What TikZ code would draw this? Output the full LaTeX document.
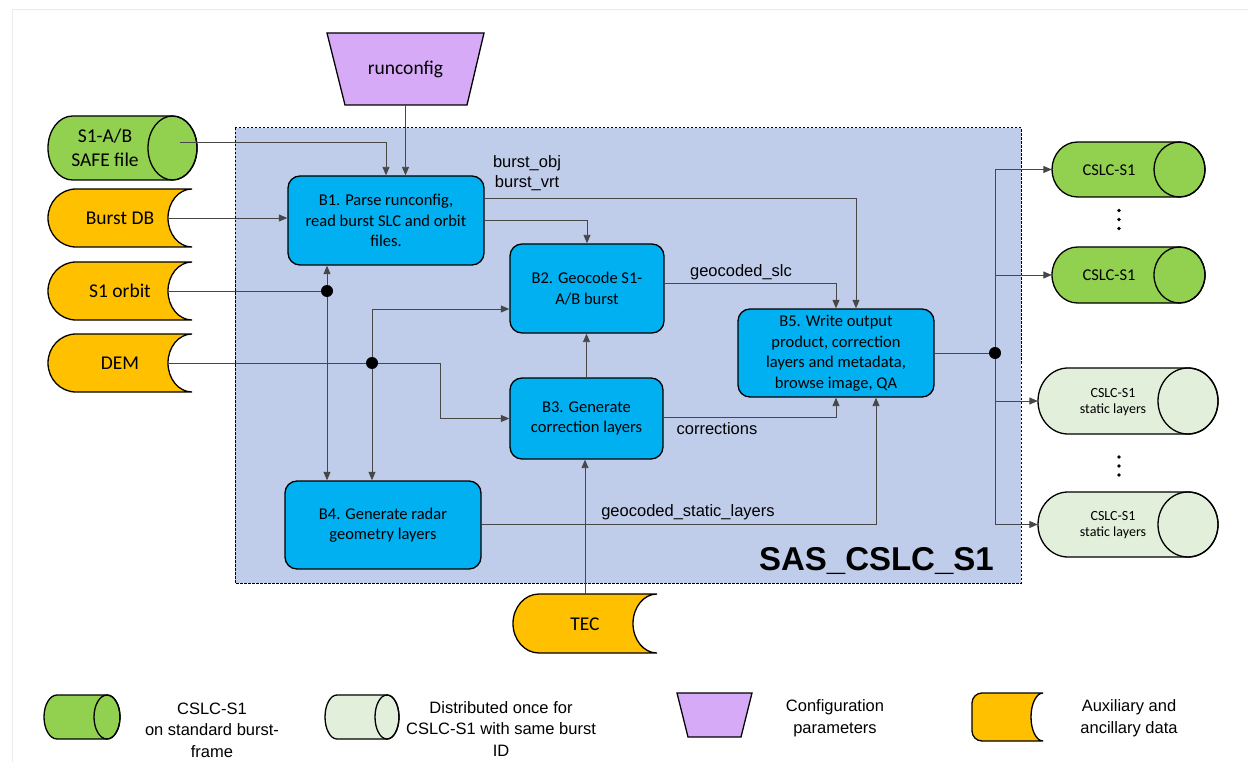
\documentclass[tikz,border=0pt]{standalone}
\usepackage{fontspec}
\setmainfont{Carlito}
\newfontfamily\arialf{Liberation Sans}
\usetikzlibrary{arrows.meta,calc}
\definecolor{cgreen}{HTML}{92D050}
\definecolor{clgreen}{HTML}{E2EFDA}
\definecolor{corange}{HTML}{FFC000}
\definecolor{cblue}{HTML}{00B0F0}
\definecolor{cpanel}{HTML}{BFCDEA}
\definecolor{cpurple}{HTML}{D6AAF6}
\definecolor{cline}{HTML}{474747}
\definecolor{cframe}{HTML}{EBEBEB}

\newcommand{\hcyl}[6]{%
  \pgfmathsetmacro{\cyM}{(#3+#4)/2}\pgfmathsetmacro{\cyR}{(#4-#3)/2}%
  \pgfmathsetmacro{\cyA}{#1+#5}\pgfmathsetmacro{\cyB}{#2-#5}%
  \draw[shp,fill=#6] (\cyA,#3) -- (\cyB,#3) arc[start angle=-90,end angle=90,x radius=#5,y radius=\cyR] -- (\cyA,#4) arc[start angle=90,end angle=270,x radius=#5,y radius=\cyR] -- cycle;
  \draw[shp] (\cyB,\cyM) ellipse[x radius=#5,y radius=\cyR];
}
\newcommand{\auxshape}[6]{%
  \pgfmathsetmacro{\auR}{(#4-#3)/2}\pgfmathsetmacro{\auA}{#1+#5}%
  \draw[shp,fill=corange] (\auA,#3) -- (#2,#3) arc[start angle=270,end angle=90,x radius=#6,y radius=\auR] -- (\auA,#4) arc[start angle=90,end angle=270,x radius=#5,y radius=\auR] -- cycle;
}

\begin{document}
\begin{tikzpicture}[x=1pt,y=-1pt,
  shp/.style={draw=black,line width=1.3pt},
  proc/.style={shp, fill=cblue, rounded corners=12pt, align=center, font=\fontsize{16.5}{20.5}\selectfont, inner sep=0pt},
  inp/.style={align=center, inner sep=0pt, font=\fontsize{19.5}{23.5}\selectfont},
  outt/.style={align=center, inner sep=0pt, font=\fontsize{16.5}{20}\selectfont},
  stt/.style={align=center, inner sep=0pt, font=\fontsize{14}{16}\selectfont},
  lbl/.style={font=\arialf\fontsize{16.5}{20}\selectfont, align=center, inner sep=0pt},
  lgt/.style={font=\arialf\fontsize{16.5}{21.5}\selectfont, align=center, inner sep=0pt},
  hold/.style={inner sep=0pt, draw=none},
  conn/.style={draw=cline, line width=0.9pt},
  arr/.style={conn, -{Triangle[length=8.5pt,width=7pt]}},
  jdot/.style={circle, fill=black, minimum size=12pt, inner sep=0pt}
]
\fill[white] (0,0) rectangle (1248,762);
\useasboundingbox (0,0) rectangle (1248,762);
\draw[cframe, line width=1pt] (12,762) -- (12,10) -- (1248,10);

% panel
\draw[black, line width=1pt, dash pattern=on 2.5pt off 1.5pt, fill=cpanel] (235,128) rectangle (1021,583);
\node[font=\arialf\bfseries\fontsize{33}{33}\selectfont, anchor=base east, inner sep=0pt] (title) at (994,570) {SAS\_CSLC\_S1};

% runconfig
\draw[shp, fill=cpurple] (327,33) -- (484,33) -- (467,105) -- (345,105) -- cycle;
\node[inp, minimum height=72pt] (rc) at (405.5,69) {runconfig};

% inputs
\hcyl{48}{197}{116}{180}{24.5}{cgreen}
\node[inp] (safe) at (105,148) {S1-A/B\\SAFE file};
\coordinate (safeout) at (180,142);
\auxshape{48}{192}{189}{247}{28}{24}
\node[inp] (burstdb) at (120,218) {Burst DB};
\coordinate (burstdbout) at (168,218);
\auxshape{48}{192}{262}{320}{28}{24}
\node[inp] (orbit) at (120,291) {S1 orbit};
\coordinate (orbitout) at (168,291);
\auxshape{48}{192}{334}{392}{28}{24}
\node[inp] (dem) at (120,363) {DEM};
\coordinate (demout) at (168,363);
\auxshape{513}{657}{594}{653}{26}{24}
\node[inp] (tec) at (585,624) {TEC};
\coordinate (tecout) at (585,594);

% outputs
\hcyl{1052}{1205}{142}{197}{25.5}{cgreen}
\node[hold, minimum width=153pt, minimum height=55pt] (out1) at (1128.5,169.5) {};
\node[outt] (out1t) at (1109,170) {CSLC-S1};
\hcyl{1052}{1205}{247}{303}{25.5}{cgreen}
\node[hold, minimum width=153pt, minimum height=56pt] (out2) at (1128.5,275) {};
\node[outt] (out2t) at (1109,275) {CSLC-S1};
\hcyl{1038}{1218}{368}{434}{30}{clgreen}
\node[hold, minimum width=180pt, minimum height=66pt] (st1) at (1128,401) {};
\node[stt] (st1t) at (1113,402) {CSLC-S1\\static layers};
\hcyl{1038}{1218}{492}{557}{30}{clgreen}
\node[hold, minimum width=180pt, minimum height=65pt] (st2) at (1128,524.5) {};
\node[stt] (st2t) at (1113,525) {CSLC-S1\\static layers};
\fill (1119,210.5) circle (1.8) (1119,219.5) circle (1.8) (1119,228.5) circle (1.8);
\fill (1119,457) circle (1.8) (1119,466) circle (1.8) (1119,475) circle (1.8);

% process boxes
\node[proc, minimum width=196pt, minimum height=89pt] (b1) at (386,220.5) {B1. Parse runconfig,\\read burst SLC and orbit\\files.};
\node[proc, minimum width=154pt, minimum height=89pt] (b2) at (587,288.5) {B2. Geocode S1-\\A/B burst};
\node[proc, minimum width=153pt, minimum height=81pt] (b3) at (586.5,418.5) {B3. Generate\\correction layers};
\node[proc, minimum width=196pt, minimum height=88pt] (b4) at (383,525) {B4. Generate radar\\geometry layers};
\node[proc, minimum width=196pt, minimum height=88pt] (b5) at (836,353) {B5. Write output\\product, correction\\layers and metadata,\\browse image, QA};

% junctions
\coordinate (j1) at (327,291);
\coordinate (j2) at (372,363);
\coordinate (j3) at (995,353);

% connectors
\draw[arr] (rc.south) -- (rc.south |- b1.north);
\draw[arr] (safeout) -| (b1.north);
\draw[arr] (burstdbout) -- (burstdbout -| b1.west);
\draw[conn] (orbitout) -- (j1);
\draw[arr] (j1) -- (j1 |- b1.south);
\draw[arr] (j1) -- (j1 |- b4.north);
\draw[conn] (demout) -- (j2);
\draw[arr] (j2) -- ++(68,0) |- (b3.west);
\draw[arr] (j2) |- ($(b2.west)+(0,20.5)$);
\draw[arr] (j2) -- (j2 |- b4.north);
\draw[arr] ($(b1.east)+(0,-22.5)$) -| ($(b5.north)+(20,0)$);
\draw[arr] (b1.east) -| (b2.north);
\draw[arr] ($(b2.east)+(0,-5.5)$) -| (b5.north);
\draw[arr] (b3.north) -- (b3.north |- b2.south);
\draw[arr] ($(b3.east)+(0,-1.5)$) -| (b5.south);
\draw[arr] (tecout) -- (tecout |- b3.south);
\draw[arr] ($(b4.east)+(0,-1)$) -| ($(b5.south)+(40,0)$);
\draw[conn] (b5.east) -- (j3);
\draw[arr] (j3) |- (out1.west);
\draw[arr] (j3) |- (out2.west);
\draw[arr] (j3) |- (st1.west);
\draw[arr] (j3) |- (st2.west);
\node[jdot] (jd1) at (j1) {};
\node[jdot] (jd2) at (j2) {};
\node[jdot] (jd3) at (j3) {};

% labels
\node[lbl] (lburst) at (527,173) {burst\_obj\\burst\_vrt};
\node[lbl] (lslc) at (741,272) {geocoded\_slc};
\node[lbl] (lcorr) at (717,429) {corrections};
\node[lbl] (lstat) at (688,512) {geocoded\_static\_layers};

% legend
\hcyl{44}{120}{695}{739}{13}{cgreen}
\node[lgt] (lg1) at (212,730) {CSLC-S1\\on standard burst-\\frame};
\hcyl{325}{399}{695}{739}{12}{clgreen}
\node[lgt] (lg2) at (501,729) {Distributed once for\\CSLC-S1 with same burst\\ID};
\draw[shp, fill=cpurple] (677,693) -- (752,693) -- (741,737) -- (688,737) -- cycle;
\node[lgt] (lg3) at (835,718) {Configuration\\parameters};
\draw[shp, fill=corange] (1043,693) -- (982,693) arc[start angle=270,end angle=180,radius=10] -- (972,731) arc[start angle=180,end angle=90,radius=10] -- (1043,741) arc[start angle=90,end angle=270,x radius=12,y radius=24] -- cycle;
\node[lgt] (lg4) at (1129,718) {Auxiliary and\\ancillary data};
\end{tikzpicture}
\end{document}
